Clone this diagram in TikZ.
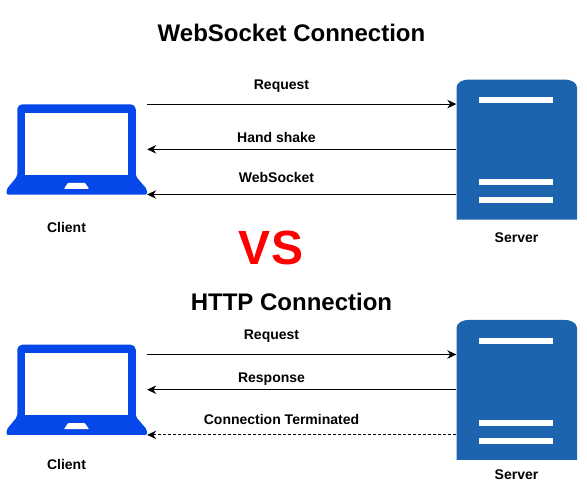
\documentclass[tikz,border=0pt]{standalone}
\usepackage{fontspec}
\setmainfont{Liberation Sans}
\usetikzlibrary{arrows.meta,positioning}
\definecolor{lapblue}{HTML}{0547E8}
\definecolor{srvblue}{HTML}{1C65AE}

\begin{document}
\begin{tikzpicture}[x=1pt, y=-1pt, node distance=5mm,
  lbl/.style={font=\fontsize{14}{16}\bfseries\selectfont, inner sep=0pt},
  head/.style={font=\fontsize{24}{28}\bfseries\selectfont, inner sep=0pt},
  arr/.style={line width=0.9pt, -{Stealth[length=9pt, width=8.5pt]}},
  laptop/.style={inner sep=0pt, minimum width=140.5pt, minimum height=90pt, path picture={
    \fill[lapblue, rounded corners=2pt] (-70.25,45.4) -- (-70.25,40) -- (-59.5,27) [rounded corners=5pt] -- (-59.5,-45) -- (59,-45) [rounded corners=2pt] -- (59,27) -- (70.25,40) -- (70.25,45.4) -- cycle;
    \fill[white] (-51.75,-36.7) rectangle (51.25,25.7);
    \fill[white, rounded corners=0.7pt] (-12.75,39.5) -- (-8.75,33.5) -- (8.25,33.5) -- (12.25,39.5) -- cycle;}},
  server/.style={inner sep=0pt, minimum width=120.5pt, minimum height=140pt, path picture={
    \fill[srvblue] (-60.25,70) -- (-60.25,-62) .. controls (-60.25,-67) and (-54,-70) .. (-48,-70) -- (48,-70) .. controls (54,-70) and (60.25,-67) .. (60.25,-62) -- (60.25,70) -- cycle;
    \fill[white] (-37.4,-52.2) rectangle (36.5,-46.2);
    \fill[white] (-37.4,29.8) rectangle (36.5,35.8);
    \fill[white] (-37.4,47.8) rectangle (36.5,53.8);}}]
\useasboundingbox (0,0) rectangle (587,490);
% upper block
\node[head] (titleA) at (291.5,33) {WebSocket Connection};
\node[laptop] (lapA) at (76.75,149.3) {};
\node[server] (srvA) at (516.75,149.5) {};
\node[lbl] (clientA) at (66.5,227) {Client};
\node[lbl] (serverA) at (516.5,237.5) {Server};
\coordinate (inA) at (srvA.west |- lapA.north);
\coordinate (shakeA) at (srvA.west |- lapA.center);
\coordinate (sockA) at (srvA.west |- lapA.south);
\draw[arr] (lapA.north east) -- (inA);
\draw[arr] (shakeA) -- (lapA.east);
\draw[arr] (sockA) -- (lapA.south east);
\node[lbl] (reqA) at (281.5,86) {Request};
\node[lbl] (handA) at (276.5,137) {Hand shake};
\node[lbl] (wsA) at (276.5,177) {WebSocket};
% middle
\node[font=\fontsize{48}{54}\bfseries\selectfont, text=red, inner sep=0pt] (vs) at (271,247.5) {VS};
% lower block
\node[head] (titleB) at (291.5,301.5) {HTTP Connection};
\node[laptop, below=150pt of lapA.south, anchor=north] (lapB) {};
\node[server, below=100pt of srvA.south, anchor=north] (srvB) {};
\node[lbl] (clientB) at (66.5,464) {Client};
\node[lbl] (serverB) at (516.5,474.5) {Server};
\coordinate[below=10pt of lapB.north east] (outB);
\coordinate (inB) at (srvB.west |- outB);
\coordinate (respB) at (srvB.west |- lapB.center);
\coordinate (endB) at (srvB.west |- lapB.south);
\draw[arr] (outB) -- (inB);
\draw[arr] (respB) -- (lapB.east);
\draw[arr, dashed, dash pattern=on 3pt off 2pt] (endB) -- (lapB.south east);
\node[lbl] (reqB) at (271.5,336) {Request};
\node[lbl] (resB) at (271.5,379) {Response};
\node[lbl] (termB) at (281.5,419) {Connection Terminated};
\end{tikzpicture}
\end{document}
